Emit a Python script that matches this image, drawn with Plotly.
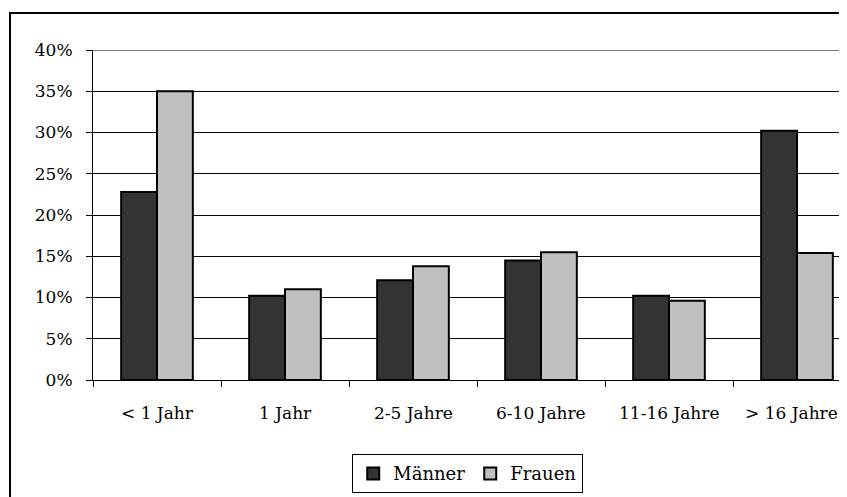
import plotly.graph_objects as go

categories = ["< 1 Jahr", "1 Jahr", "2-5 Jahre", "6-10 Jahre", "11-16 Jahre", "> 16 Jahre"]
maenner = [22.8, 10.2, 12.1, 14.5, 10.2, 30.2]
frauen = [35.0, 11.0, 13.8, 15.5, 9.6, 15.4]
y_ticks = [0, 5, 10, 15, 20, 25, 30, 35, 40]
y_labels = [f"{v}%" for v in y_ticks]

idx = list(range(len(categories)))
boundaries = [i - 0.5 for i in range(len(categories) + 1)]

# page has an 8px body margin, so the figure is drawn 8px smaller and offset
W, H = 839, 489
L, R, T, B = 85, 0, 42, 117
cat_px = 128.0
x_range = [-0.5, -0.5 + (W - L - R) / cat_px]

FAM = "DejaVu Serif"
FS = 17

fig = go.Figure()
fig.add_trace(go.Bar(x=idx, y=maenner, name="Männer",
                     marker=dict(color="#333333", line=dict(color="black", width=2))))
fig.add_trace(go.Bar(x=idx, y=frauen, name="Frauen",
                     marker=dict(color="#C0C0C0", line=dict(color="black", width=2))))

fig.update_layout(
    width=W, height=H,
    margin=dict(l=L, r=R, t=T, b=B),
    paper_bgcolor="white", plot_bgcolor="white",
    font=dict(family=FAM, size=FS, color="black"),
    barmode="group", bargap=0.44, bargroupgap=0.0,
    showlegend=True,
    legend=dict(orientation="h", x=0.497, xanchor="center", y=-0.225, yanchor="top",
                bordercolor="black", borderwidth=1,
                font=dict(family=FAM, size=18, color="black"),
                itemwidth=30, bgcolor="white"),
)
fig.update_xaxes(range=x_range, tickmode="array", tickvals=idx, showticklabels=False,
                 ticks="", showgrid=False, zeroline=False, showline=True,
                 linecolor="black", linewidth=1,
                 minor=dict(tickmode="array", tickvals=boundaries, ticks="outside",
                            ticklen=6, tickcolor="black", showgrid=False))
fig.update_yaxes(range=[0, 40], tickmode="array", tickvals=y_ticks, ticktext=y_labels,
                 ticks="outside", ticklen=6, tickcolor="black", showgrid=True,
                 gridcolor="black", gridwidth=1, zeroline=False, showline=True,
                 linecolor="black", linewidth=1, ticklabelstandoff=10,
                 tickfont=dict(family=FAM, size=FS, color="black"))

# category labels under each group (last one nudged left to stay inside, as in the reference)
for i, cat in enumerate(categories):
    fig.add_annotation(x=i, y=0, xref="x", yref="y", text=cat, showarrow=False,
                       xanchor="center", yanchor="middle", yshift=-33,
                       xshift=-6 if i == len(categories) - 1 else 0,
                       font=dict(family=FAM, size=FS, color="black"))

# gray top gridline (40%)
fig.add_shape(type="line", xref="paper", yref="y", x0=0, x1=1, y0=40, y1=40,
              line=dict(color="#808080", width=2))

# outer chart border
fig.add_shape(type="rect", xref="paper", yref="paper",
              x0=(2 - L) / (W - L - R), x1=1.05,
              y0=-0.5, y1=(H - B - 5) / (H - T - B),
              line=dict(color="black", width=2), fillcolor="rgba(0,0,0,0)", layer="below")

fig.write_html("out.html")
